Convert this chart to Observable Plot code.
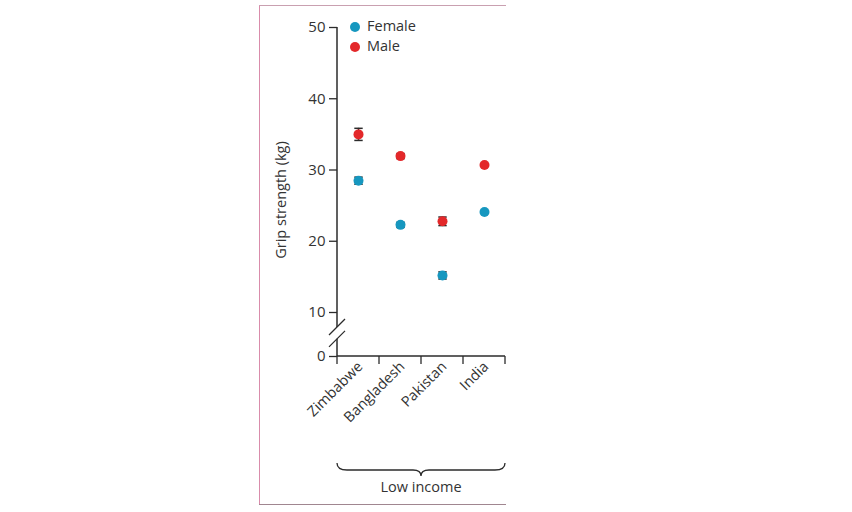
<!DOCTYPE html>
<html>
<head>
<meta charset="utf-8">
<script src="https://cdn.jsdelivr.net/npm/d3@7"></script>
<script src="https://cdn.jsdelivr.net/npm/@observablehq/plot@0.6"></script>
<style>
  html, body { margin: 0; padding: 0; background: #fff; }
  #wrap { position: relative; width: 852px; height: 512px; overflow: hidden; font-family: "Open Sans", sans-serif; }
  #frameL { position: absolute; left: 259px; top: 5px; width: 0; height: 500px; border-left: 1.5px solid #d98cab; }
  #frameT { position: absolute; left: 259px; top: 5px; width: 247px; height: 0; border-top: 1.5px solid #c9a0b0; }
  #frameB { position: absolute; left: 259px; top: 504px; width: 247px; height: 0; border-top: 1.5px solid #a08690; }
  #legend { position: absolute; left: 350px; top: 16px; font-size: 14.5px; color: #333; line-height: 20px; }
  #legend .sw { display: inline-block; width: 10px; height: 10px; border-radius: 50%; margin-right: 7px; vertical-align: -1px; }
  #chart { position: absolute; left: 0; top: 0; }
</style>
</head>
<body>
<div id="wrap">
  <div id="chart"></div>
  <div id="frameL"></div><div id="frameT"></div><div id="frameB"></div>
  <div id="legend"></div>
</div>
<script>
const categories = ["Zimbabwe", "Bangladesh", "Pakistan", "India"];
const femaleMean = [28.5, 22.3, 15.2, 24.1];
const femaleErr  = [0.5, 0.35, 0.5, 0];
const maleMean   = [35.0, 31.95, 22.8, 30.7];
const maleErr    = [0.85, 0.35, 0.6, 0];
const yTicks     = [0, 10, 20, 30, 40, 50];
const seriesNames  = ["Female", "Male"];
const seriesColors = ["#1697bf", "#e3282a"];
const groupLabel = "Low income";
const yLabel = "Grip strength (kg)";

const rows = [];
categories.forEach((c, i) => {
  rows.push({cat: c, pos: i + 0.5, sex: "Female", mean: femaleMean[i], err: femaleErr[i]});
  rows.push({cat: c, pos: i + 0.5, sex: "Male", mean: maleMean[i], err: maleErr[i]});
});
const errRows = rows.filter(d => d.err > 0);

// legend
const leg = document.getElementById("legend");
seriesNames.forEach((s, i) => {
  const div = document.createElement("div");
  div.innerHTML = `<span class="sw" style="background:${seriesColors[i]}"></span>${s}`;
  leg.appendChild(div);
});

const ink = "#2b2b2b";

function axisAndBreak(index, scales) {
  const x = scales.x, y = scales.y;
  const g = d3.create("svg:g").attr("stroke", ink).attr("fill", "none");
  const x0 = x(0), x1 = x(categories.length);
  const gapTop = y(6.6), gapBot = y(3.9);
  g.append("line").attr("x1", x0).attr("x2", x0).attr("y1", y(50)).attr("y2", gapTop).attr("stroke-width", 1.5);
  g.append("line").attr("x1", x0).attr("x2", x0).attr("y1", gapBot).attr("y2", y(0)).attr("stroke-width", 1.5);
  [gapTop, gapBot].forEach(yy => {
    g.append("line").attr("x1", x0 - 8).attr("y1", yy + 8).attr("x2", x0 + 8).attr("y2", yy - 8).attr("stroke-width", 1.3);
  });
  g.append("line").attr("x1", x0).attr("x2", x1).attr("y1", y(0)).attr("y2", y(0)).attr("stroke-width", 1.5);
  for (let k = 0; k <= categories.length; k++) {
    g.append("line").attr("x1", x(k)).attr("x2", x(k)).attr("y1", y(0)).attr("y2", y(0) + 8).attr("stroke-width", 1.3);
  }
  const by = 463, mid = (x0 + x1) / 2, tip = 476;
  g.append("path")
    .attr("d", `M${x0},${by} Q${x0},${by + 7} ${x0 + 10},${by + 7} L${mid - 8},${by + 7} Q${mid},${by + 7} ${mid},${tip} Q${mid},${by + 7} ${mid + 8},${by + 7} L${x1 - 10},${by + 7} Q${x1},${by + 7} ${x1},${by}`)
    .attr("stroke-width", 1.3);
  g.append("text").attr("x", mid).attr("y", 492).attr("text-anchor", "middle")
    .attr("fill", "#333").attr("stroke", "none").attr("font-size", 14.5).text(groupLabel);
  g.append("text").attr("transform", `translate(${x0 - 51},${200}) rotate(-90)`)
    .attr("text-anchor", "middle").attr("fill", "#333").attr("stroke", "none").attr("font-size", 14.5).text(yLabel);
  return g.node();
}

const plot = Plot.plot({
  width: 852,
  height: 512,
  marginLeft: 337,
  marginRight: 347,
  marginTop: 27,
  marginBottom: 156,
  style: {fontFamily: "'Open Sans', sans-serif", fontSize: "14px", color: "#333", background: "transparent", overflow: "visible"},
  x: {type: "linear", domain: [0, categories.length], range: [337, 505], axis: null},
  y: {type: "linear", domain: [0, 10, 50], range: [356, 312, 27], axis: null},
  color: {domain: seriesNames, range: seriesColors},
  marks: [
    Plot.axisY({ticks: yTicks, tickSize: 8, tickPadding: 4, fontSize: 15, label: null, stroke: ink, strokeWidth: 1.3, fill: "#333", anchor: "left"}),
    axisAndBreak,
    Plot.text(categories, {x: (d, i) => i + 0.5, frameAnchor: "bottom", text: d => d, rotate: -45, textAnchor: "end", dx: 5, dy: 11, fontSize: 14.5, fill: "#333"}),
    Plot.ruleX(errRows, {x: "pos", y1: d => d.mean - d.err, y2: d => d.mean + d.err, stroke: ink, strokeWidth: 1.5}),
    Plot.link(errRows, {x1: d => d.pos - 0.1, x2: d => d.pos + 0.1, y1: d => d.mean + d.err, y2: d => d.mean + d.err, stroke: ink, strokeWidth: 1.5}),
    Plot.link(errRows, {x1: d => d.pos - 0.1, x2: d => d.pos + 0.1, y1: d => d.mean - d.err, y2: d => d.mean - d.err, stroke: ink, strokeWidth: 1.5}),
    Plot.dot(rows, {x: "pos", y: "mean", fill: "sex", r: 5})
  ]
});
document.getElementById("chart").appendChild(plot);
</script>
</body>
</html>
